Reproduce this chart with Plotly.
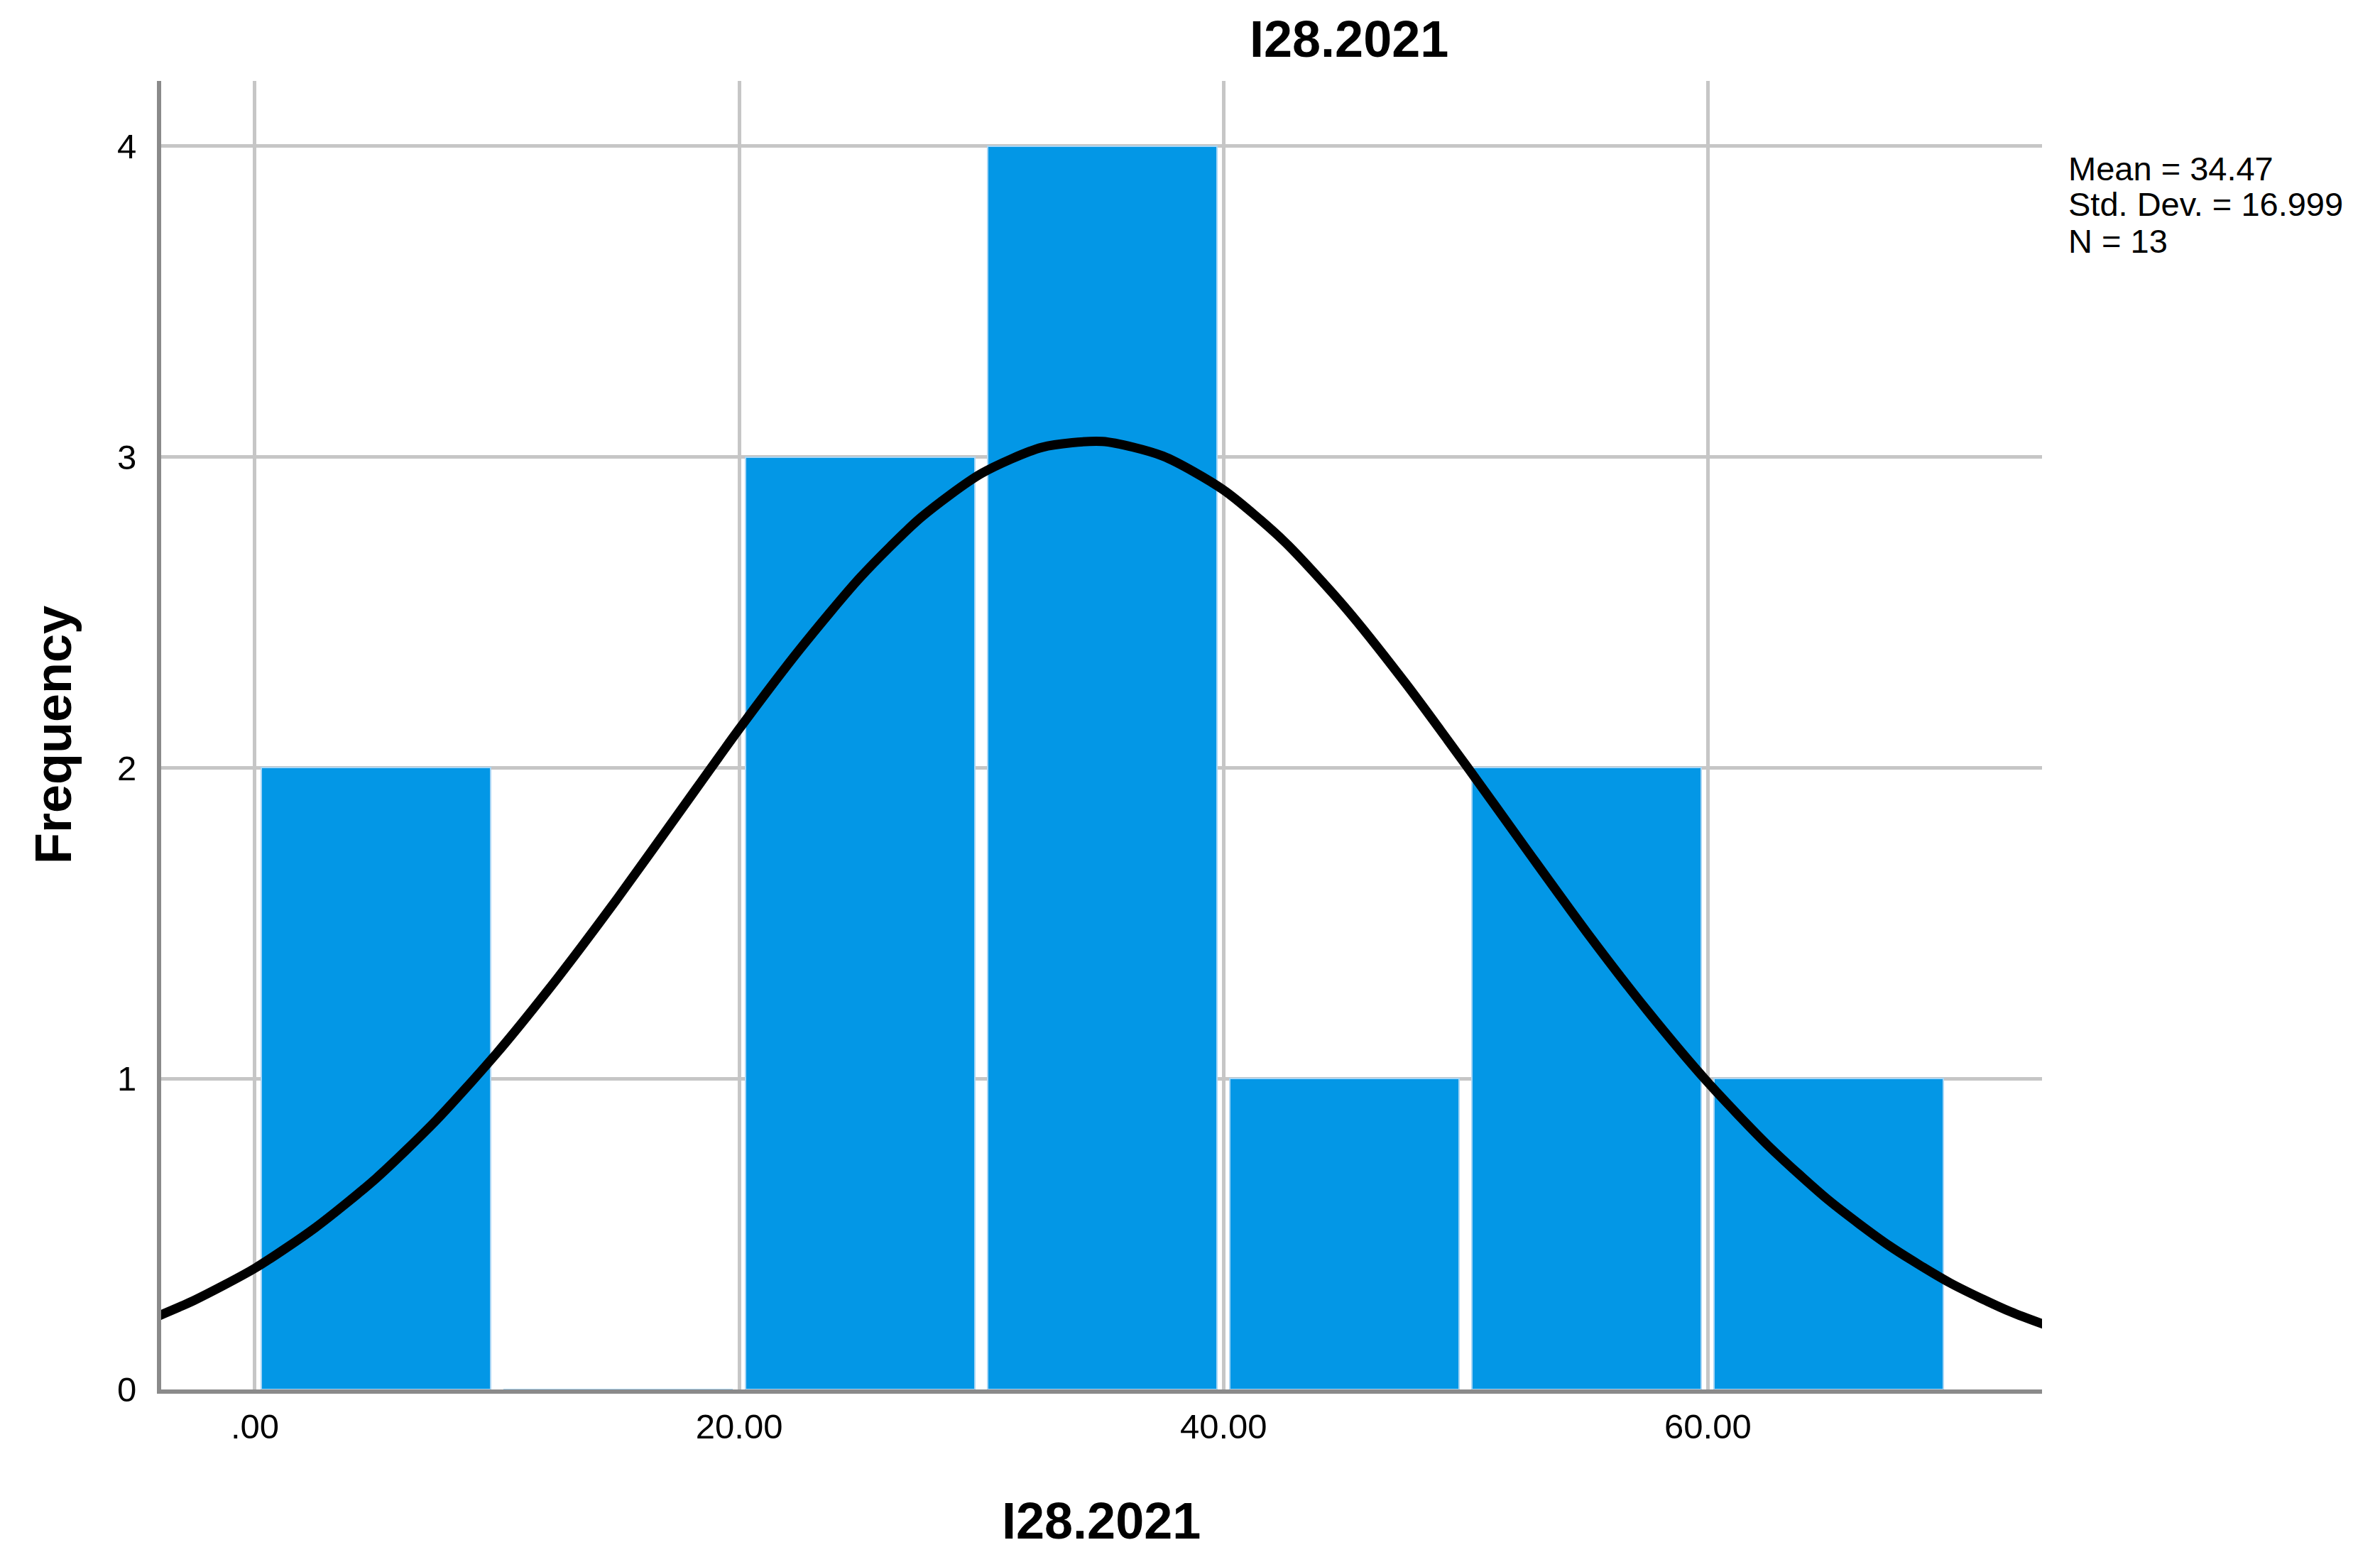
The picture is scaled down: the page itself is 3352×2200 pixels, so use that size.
import plotly.graph_objects as go

# Histogram bins (bin centres) and frequencies
bin_centers = [5, 15, 25, 35, 45, 55, 65]
frequencies = [2, 0, 3, 4, 1, 2, 1]

# Normal curve values
curve_x = [-4, -2.5, 0, 2.5, 5, 7.5, 10, 12.5, 15, 17.5, 20, 22.5, 25, 27.5, 30, 32.5,
           35, 37.5, 40, 42.5, 45, 47.5, 50, 52.5, 55, 57.5, 60, 62.5, 65, 67.5,
           70, 72.5, 75]
curve_y = [0.236, 0.287, 0.390, 0.521, 0.679, 0.867, 1.083, 1.324, 1.583, 1.854, 2.125,
           2.381, 2.613, 2.805, 2.947, 3.031, 3.050, 3.003, 2.894, 2.729, 2.518, 2.274,
           2.010, 1.739, 1.471, 1.219, 0.988, 0.784, 0.608, 0.462, 0.343, 0.250, 0.178]

x_tickvals = [0, 20, 40, 60]
x_ticktext = [".00", "20.00", "40.00", "60.00"]
y_tickvals = [0, 1, 2, 3, 4]

stats_lines = ["Mean = 34.47", "Std. Dev. = 16.999", "N = 13"]

FONT = "Liberation Sans, Arial, sans-serif"

# page body has an 8px default margin: work in figure coordinates
OFF = 8
W, H = 3352 - 2 * OFF, 2200 - 2 * OFF
plot_l, plot_r, plot_t, plot_b = 227 - OFF, 2876 - OFF, 114 - OFF, 1957 - OFF
pw, ph = plot_r - plot_l, plot_b - plot_t


def px_x(x):
    return (x - OFF - plot_l) / pw


def px_y(y):
    return (plot_b - (y - OFF)) / ph


fig = go.Figure()
fig.add_trace(go.Bar(
    x=bin_centers, y=frequencies, width=9.47,
    marker=dict(color="#0397e6", line=dict(color="#a9d6f5", width=2)),
    showlegend=False,
))
fig.add_trace(go.Scatter(
    x=curve_x, y=curve_y, mode="lines",
    line=dict(color="black", width=13, shape="spline", smoothing=0.7),
    showlegend=False,
))

fig.update_layout(
    width=W, height=H,
    margin=dict(l=plot_l, r=W - plot_r, t=plot_t, b=H - plot_b),
    paper_bgcolor="white", plot_bgcolor="white",
    font=dict(family=FONT, color="black"),
    bargap=0,
)
fig.update_xaxes(
    range=[-3.87, 73.8], tickvals=x_tickvals, ticktext=x_ticktext,
    showgrid=True, gridcolor="#c6c6c6", gridwidth=5,
    showline=True, linecolor="#8a8a8a", linewidth=6,
    zeroline=False, ticks="", ticklabelstandoff=4,
    tickfont=dict(size=49, family=FONT, color="black"),
)
fig.update_yaxes(
    range=[0, 4.21], tickvals=y_tickvals,
    showgrid=True, gridcolor="#c6c6c6", gridwidth=5,
    showline=True, linecolor="#8a8a8a", linewidth=6,
    zeroline=False, ticks="", ticklabelstandoff=19,
    tickfont=dict(size=49, family=FONT, color="black"),
)

annotations = [
    dict(text="<b>I28.2021</b>", x=px_x(1900), y=px_y(55), xref="paper", yref="paper",
         xanchor="center", yanchor="middle", showarrow=False,
         font=dict(size=72, family=FONT)),
    dict(text="<b>I28.2021</b>", x=px_x(1551), y=px_y(2142), xref="paper", yref="paper",
         xanchor="center", yanchor="middle", showarrow=False,
         font=dict(size=72, family=FONT)),
    dict(text="<b>Frequency</b>", x=px_x(75), y=px_y(1035), xref="paper", yref="paper",
         xanchor="center", yanchor="middle", showarrow=False, textangle=-90,
         font=dict(size=72, family=FONT)),
]

for i, line in enumerate(stats_lines):
    annotations.append(dict(
        text=line, x=px_x(2911), y=px_y(237 + i * 51), xref="paper", yref="paper",
        xanchor="left", yanchor="middle", showarrow=False,
        font=dict(size=47, family=FONT, color="black"),
    ))

fig.update_layout(annotations=annotations)
fig.write_html("out.html")
